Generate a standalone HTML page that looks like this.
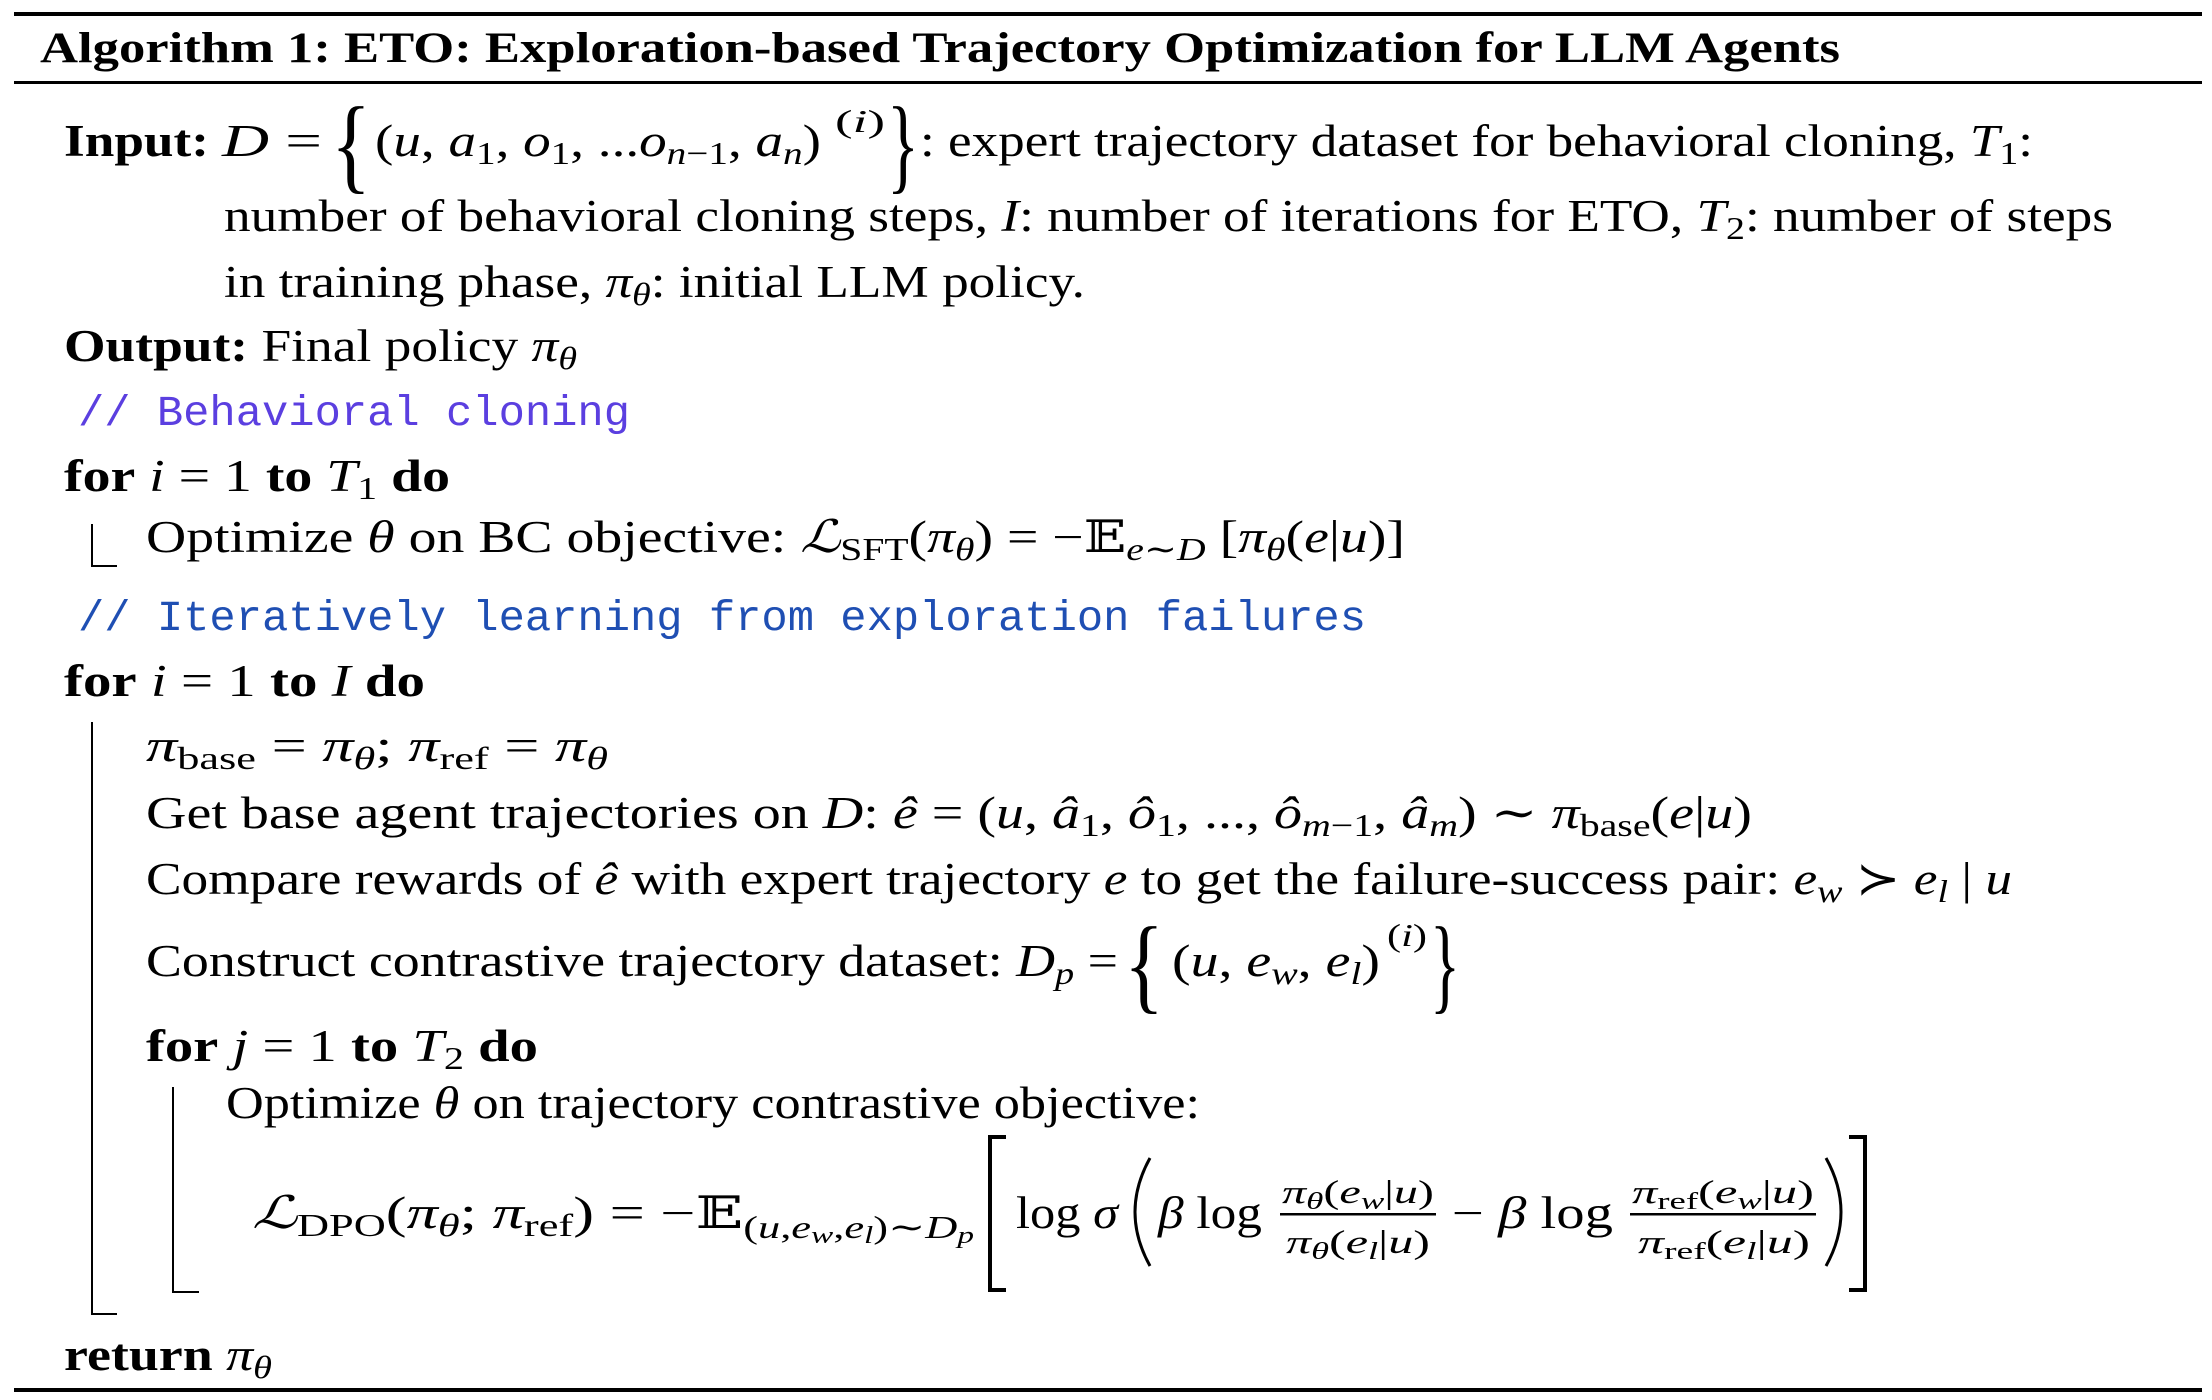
<!DOCTYPE html>
<html><head><meta charset="utf-8">
<style>
html,body{margin:0;padding:0;background:#fff;}
svg{display:block;}
text{font-family:"Liberation Serif","DejaVu Serif",serif;fill:#000;}
.b{font-weight:bold;}
.i{font-style:italic;}
.m{font-family:"Liberation Mono","DejaVu Sans Mono",monospace;}
</style></head>
<body>
<svg width="2212" height="1400" viewBox="0 0 2212 1400" xmlns="http://www.w3.org/2000/svg">
<rect x="14" y="12" width="2188" height="4" fill="#000"/>
<rect x="14" y="81" width="2188" height="3" fill="#000"/>
<rect x="14" y="1388" width="2188" height="4" fill="#000"/>

<text x="40" y="62" font-size="43" class="b" textLength="1800" lengthAdjust="spacingAndGlyphs">Algorithm 1: ETO: Exploration-based Trajectory Optimization for LLM Agents</text>

<text x="64" y="156" font-size="45" class="b" textLength="145" lengthAdjust="spacingAndGlyphs">Input:</text>
<text x="222" y="156" font-size="45" textLength="100" lengthAdjust="spacingAndGlyphs"><tspan class="i">D</tspan> =</text>
<text x="331" y="180" font-size="106" textLength="40" lengthAdjust="spacingAndGlyphs">{</text>
<text x="375" y="156" font-size="45" textLength="446" lengthAdjust="spacingAndGlyphs">(<tspan class="i">u</tspan>, <tspan class="i">a</tspan><tspan font-size="32" dy="8">1</tspan><tspan dy="-8">, </tspan><tspan class="i">o</tspan><tspan font-size="32" dy="8">1</tspan><tspan dy="-8">, ...</tspan><tspan class="i">o</tspan><tspan font-size="32" dy="8"><tspan class="i">n</tspan>−1</tspan><tspan dy="-8">, </tspan><tspan class="i">a</tspan><tspan font-size="32" dy="8" class="i">n</tspan><tspan dy="-8">)</tspan></text>
<text x="835" y="132" font-size="32" textLength="50" lengthAdjust="spacingAndGlyphs">(<tspan class="i">i</tspan>)</text>
<text x="887" y="180" font-size="106" textLength="32" lengthAdjust="spacingAndGlyphs">}</text>
<text x="920" y="156" font-size="45" textLength="1113" lengthAdjust="spacingAndGlyphs">: expert trajectory dataset for behavioral cloning, <tspan class="i">T</tspan><tspan font-size="32" dy="8">1</tspan><tspan dy="-8">:</tspan></text>

<text x="224" y="231" font-size="45" textLength="1889" lengthAdjust="spacingAndGlyphs">number of behavioral cloning steps, <tspan class="i">I</tspan>: number of iterations for ETO, <tspan class="i">T</tspan><tspan font-size="32" dy="8">2</tspan><tspan dy="-8">: number of steps</tspan></text>
<text x="224" y="297" font-size="45" textLength="861" lengthAdjust="spacingAndGlyphs">in training phase, <tspan class="i">π</tspan><tspan font-size="32" dy="8" class="i">θ</tspan><tspan dy="-8">: initial LLM policy.</tspan></text>

<text x="64" y="361" font-size="45" textLength="513" lengthAdjust="spacingAndGlyphs"><tspan class="b">Output:</tspan> Final policy <tspan class="i">π</tspan><tspan font-size="32" dy="8" class="i">θ</tspan></text>

<text x="78" y="425" font-size="43" class="m" style="fill:#5b3fe0" textLength="552" lengthAdjust="spacingAndGlyphs">// Behavioral cloning</text>

<text x="64" y="491" font-size="45" textLength="386" lengthAdjust="spacingAndGlyphs"><tspan class="b">for</tspan> <tspan class="i">i</tspan> = 1 <tspan class="b">to</tspan> <tspan class="i">T</tspan><tspan font-size="32" dy="8">1</tspan><tspan dy="-8" class="b"> do</tspan></text>
<path d="M92 524 V566 H117" stroke="#000" stroke-width="2" fill="none"/>
<text x="146" y="552" font-size="45" textLength="1259" lengthAdjust="spacingAndGlyphs">Optimize <tspan class="i">θ</tspan> on BC objective: <tspan class="i">ℒ</tspan><tspan font-size="32" dy="8">SFT</tspan><tspan dy="-8">(</tspan><tspan class="i">π</tspan><tspan font-size="32" dy="8" class="i">θ</tspan><tspan dy="-8">) = −𝔼</tspan><tspan font-size="32" dy="8" class="i">e</tspan><tspan font-size="32">∼</tspan><tspan font-size="32" class="i">D</tspan><tspan dy="-8"> [</tspan><tspan class="i">π</tspan><tspan font-size="32" dy="8" class="i">θ</tspan><tspan dy="-8">(</tspan><tspan class="i">e</tspan>|<tspan class="i">u</tspan>)]</text>

<text x="78" y="630" font-size="43" class="m" style="fill:#1f4fb3" textLength="1288" lengthAdjust="spacingAndGlyphs">// Iteratively learning from exploration failures</text>

<text x="64" y="696" font-size="45" textLength="361" lengthAdjust="spacingAndGlyphs"><tspan class="b">for</tspan> <tspan class="i">i</tspan> = 1 <tspan class="b">to</tspan> <tspan class="i">I</tspan><tspan class="b"> do</tspan></text>
<path d="M92 722 V1314 H117" stroke="#000" stroke-width="2" fill="none"/>

<text x="146" y="761" font-size="45" textLength="462" lengthAdjust="spacingAndGlyphs"><tspan class="i">π</tspan><tspan font-size="32" dy="8">base</tspan><tspan dy="-8"> = </tspan><tspan class="i">π</tspan><tspan font-size="32" dy="8" class="i">θ</tspan><tspan dy="-8">; </tspan><tspan class="i">π</tspan><tspan font-size="32" dy="8">ref</tspan><tspan dy="-8"> = </tspan><tspan class="i">π</tspan><tspan font-size="32" dy="8" class="i">θ</tspan></text>

<text x="146" y="828" font-size="45" textLength="1606" lengthAdjust="spacingAndGlyphs">Get base agent trajectories on <tspan class="i">D</tspan>: <tspan class="i">ê</tspan> = (<tspan class="i">u</tspan>, <tspan class="i">â</tspan><tspan font-size="32" dy="8">1</tspan><tspan dy="-8">, </tspan><tspan class="i">ô</tspan><tspan font-size="32" dy="8">1</tspan><tspan dy="-8">, ..., </tspan><tspan class="i">ô</tspan><tspan font-size="32" dy="8"><tspan class="i">m</tspan>−1</tspan><tspan dy="-8">, </tspan><tspan class="i">â</tspan><tspan font-size="32" dy="8" class="i">m</tspan><tspan dy="-8">) ∼ </tspan><tspan class="i">π</tspan><tspan font-size="32" dy="8">base</tspan><tspan dy="-8">(</tspan><tspan class="i">e</tspan>|<tspan class="i">u</tspan>)</text>

<text x="146" y="894" font-size="45" textLength="1866" lengthAdjust="spacingAndGlyphs">Compare rewards of <tspan class="i">ê</tspan> with expert trajectory <tspan class="i">e</tspan> to get the failure-success pair: <tspan class="i">e</tspan><tspan font-size="32" dy="8" class="i">w</tspan><tspan dy="-8"> ≻ </tspan><tspan class="i">e</tspan><tspan font-size="32" dy="8" class="i">l</tspan><tspan dy="-8"> | </tspan><tspan class="i">u</tspan></text>

<text x="146" y="976" font-size="45" textLength="972" lengthAdjust="spacingAndGlyphs">Construct contrastive trajectory dataset: <tspan class="i">D</tspan><tspan font-size="32" dy="8" class="i">p</tspan><tspan dy="-8"> =</tspan></text>
<text x="1124" y="1000" font-size="106" textLength="40" lengthAdjust="spacingAndGlyphs">{</text>
<text x="1172" y="976" font-size="45" textLength="208" lengthAdjust="spacingAndGlyphs">(<tspan class="i">u</tspan>, <tspan class="i">e</tspan><tspan font-size="32" dy="8" class="i">w</tspan><tspan dy="-8">, </tspan><tspan class="i">e</tspan><tspan font-size="32" dy="8" class="i">l</tspan><tspan dy="-8">)</tspan></text>
<text x="1387" y="946" font-size="32" textLength="40" lengthAdjust="spacingAndGlyphs">(<tspan class="i">i</tspan>)</text>
<text x="1430" y="1000" font-size="106" textLength="30" lengthAdjust="spacingAndGlyphs">}</text>

<text x="146" y="1061" font-size="45" textLength="392" lengthAdjust="spacingAndGlyphs"><tspan class="b">for</tspan> <tspan class="i">j</tspan> = 1 <tspan class="b">to</tspan> <tspan class="i">T</tspan><tspan font-size="32" dy="8">2</tspan><tspan dy="-8" class="b"> do</tspan></text>
<path d="M173 1087 V1292 H199" stroke="#000" stroke-width="2" fill="none"/>

<text x="226" y="1118" font-size="45" textLength="974" lengthAdjust="spacingAndGlyphs">Optimize <tspan class="i">θ</tspan> on trajectory contrastive objective:</text>

<text x="252" y="1228" font-size="45" textLength="722" lengthAdjust="spacingAndGlyphs"><tspan class="i">ℒ</tspan><tspan font-size="32" dy="8">DPO</tspan><tspan dy="-8">(</tspan><tspan class="i">π</tspan><tspan font-size="32" dy="8" class="i">θ</tspan><tspan dy="-8">; </tspan><tspan class="i">π</tspan><tspan font-size="32" dy="8">ref</tspan><tspan dy="-8">) = −𝔼</tspan><tspan font-size="32" dy="10">(<tspan class="i">u</tspan>,<tspan class="i">e</tspan><tspan font-size="24" dy="5" class="i">w</tspan><tspan dy="-5">,</tspan><tspan class="i">e</tspan><tspan font-size="24" dy="5" class="i">l</tspan><tspan dy="-5">)∼</tspan><tspan class="i">D</tspan><tspan font-size="24" dy="5" class="i">p</tspan></tspan></text>
<path d="M1006 1137 H990 V1290 H1006" stroke="#000" stroke-width="4" fill="none"/>
<path d="M1849 1137 H1865 V1290 H1849" stroke="#000" stroke-width="4" fill="none"/>
<text x="1016" y="1228" font-size="45" textLength="102" lengthAdjust="spacingAndGlyphs">log <tspan class="i">σ</tspan></text>
<path d="M1150 1158 Q1120 1212 1150 1266" stroke="#000" stroke-width="3" fill="none"/>
<text x="1158" y="1228" font-size="45" textLength="104" lengthAdjust="spacingAndGlyphs"><tspan class="i">β</tspan> log</text>
<text x="1282" y="1203" font-size="33" textLength="152" lengthAdjust="spacingAndGlyphs"><tspan class="i">π</tspan><tspan font-size="24" dy="6" class="i">θ</tspan><tspan dy="-6">(</tspan><tspan class="i">e</tspan><tspan font-size="24" dy="6" class="i">w</tspan><tspan dy="-6">|</tspan><tspan class="i">u</tspan>)</text>
<rect x="1280" y="1213" width="156" height="2.5" fill="#000"/>
<text x="1286" y="1253" font-size="33" textLength="144" lengthAdjust="spacingAndGlyphs"><tspan class="i">π</tspan><tspan font-size="24" dy="6" class="i">θ</tspan><tspan dy="-6">(</tspan><tspan class="i">e</tspan><tspan font-size="24" dy="6" class="i">l</tspan><tspan dy="-6">|</tspan><tspan class="i">u</tspan>)</text>
<text x="1452" y="1228" font-size="45" textLength="161" lengthAdjust="spacingAndGlyphs">− <tspan class="i">β</tspan> log</text>
<text x="1632" y="1203" font-size="33" textLength="182" lengthAdjust="spacingAndGlyphs"><tspan class="i">π</tspan><tspan font-size="24" dy="6">ref</tspan><tspan dy="-6">(</tspan><tspan class="i">e</tspan><tspan font-size="24" dy="6" class="i">w</tspan><tspan dy="-6">|</tspan><tspan class="i">u</tspan>)</text>
<rect x="1630" y="1213" width="186" height="2.5" fill="#000"/>
<text x="1638" y="1253" font-size="33" textLength="172" lengthAdjust="spacingAndGlyphs"><tspan class="i">π</tspan><tspan font-size="24" dy="6">ref</tspan><tspan dy="-6">(</tspan><tspan class="i">e</tspan><tspan font-size="24" dy="6" class="i">l</tspan><tspan dy="-6">|</tspan><tspan class="i">u</tspan>)</text>
<path d="M1826 1158 Q1856 1212 1826 1266" stroke="#000" stroke-width="3" fill="none"/>

<text x="64" y="1370" font-size="45" textLength="208" lengthAdjust="spacingAndGlyphs"><tspan class="b">return</tspan> <tspan class="i">π</tspan><tspan font-size="32" dy="8" class="i">θ</tspan></text>
</svg>
</body></html>
